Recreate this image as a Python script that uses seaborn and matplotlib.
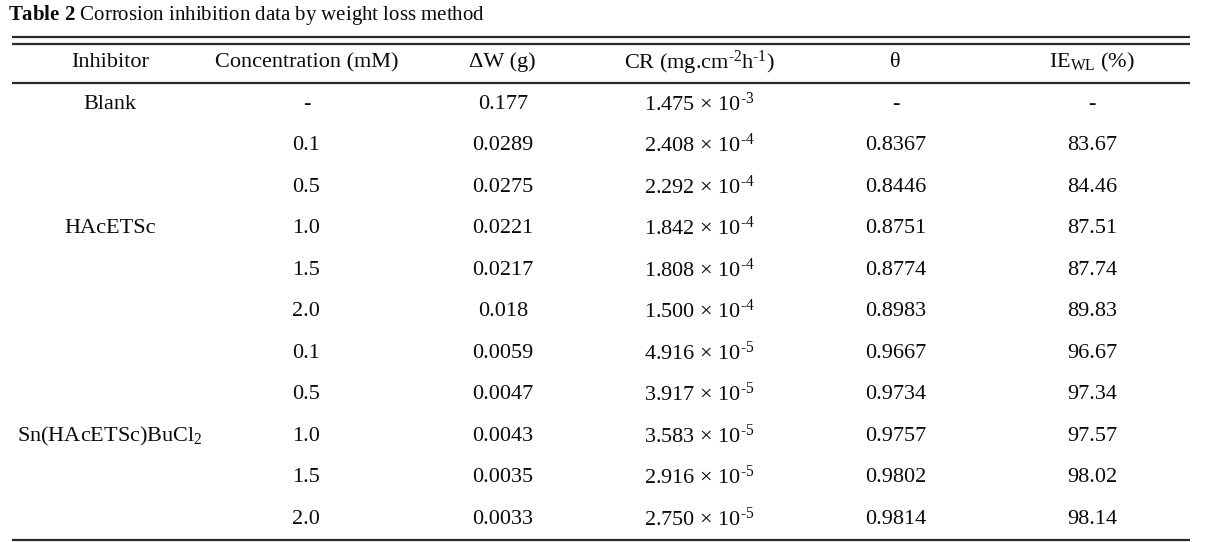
import numpy as np
import pandas as pd
import matplotlib
matplotlib.use("Agg")
import matplotlib.pyplot as plt
from matplotlib.colors import ListedColormap
import seaborn as sns

# table data
headers = ["Inhibitor", "Concentration (mM)", "ΔW (g)",
           r"CR (mg.cm$^{\text{-2}}$h$^{\text{-1}}$)", "θ", r"IE$_{\rm WL}$ (%)"]
inhibitors = ["Blank", "HAcETSc", r"Sn(HAcETSc)BuCl$_2$"]
group_sizes = [1, 5, 5]
concentration = ["-", "0.1", "0.5", "1.0", "1.5", "2.0", "0.1", "0.5", "1.0", "1.5", "2.0"]
delta_w = ["0.177", "0.0289", "0.0275", "0.0221", "0.0217", "0.018",
           "0.0059", "0.0047", "0.0043", "0.0035", "0.0033"]
cr_mant = ["1.475", "2.408", "2.292", "1.842", "1.808", "1.500",
           "4.916", "3.917", "3.583", "2.916", "2.750"]
cr_exp = [-3, -4, -4, -4, -4, -4, -5, -5, -5, -5, -5]
theta = ["-", "0.8367", "0.8446", "0.8751", "0.8774", "0.8983",
         "0.9667", "0.9734", "0.9757", "0.9802", "0.9814"]
ie_wl = ["-", "83.67", "84.46", "87.51", "87.74", "89.83",
         "96.67", "97.34", "97.57", "98.02", "98.14"]

# inhibitor name sits in the middle row of its group
inh_col = []
for name, n in zip(inhibitors, group_sizes):
    col = [""] * n
    col[n // 2] = name
    inh_col += col

cr_col = [r"%s $\times$ 10$^{\text{%d}}$" % (m, e) for m, e in zip(cr_mant, cr_exp)]

df = pd.DataFrame({
    headers[0]: inh_col,
    headers[1]: concentration,
    headers[2]: delta_w,
    headers[3]: cr_col,
    headers[4]: theta,
    headers[5]: ie_wl,
})

labels = np.vstack([np.array(headers, dtype=object), df.values])
nrow, ncol = labels.shape

sns.set_theme(style="white")
plt.rcParams['font.family'] = ['Liberation Serif', 'DejaVu Serif']
plt.rcParams['mathtext.fontset'] = 'custom'
plt.rcParams['mathtext.rm'] = 'Liberation Serif'
plt.rcParams['mathtext.it'] = 'Liberation Serif:italic'
plt.rcParams['mathtext.bf'] = 'Liberation Serif:bold'

fig = plt.figure(figsize=(12.11, 5.42), dpi=100)
ax = fig.add_axes([0, 0, 1, 1])

sns.heatmap(np.zeros((nrow, ncol)), annot=labels, fmt="", cmap=ListedColormap(["white"]),
            cbar=False, ax=ax, annot_kws={'fontsize': 16, 'color': '#0a0a0a'})

ax.set_xlim(-0.06, 6.106)
ax.set_ylim(12.054, -1.006)
ax.set_axis_off()

# rules
line_kw = dict(color='#2a2a2a', lw=1.6)
ax.hlines([-0.11, 0.06], 0, ncol, **line_kw)
ax.hlines([1.0, nrow], 0, ncol, **line_kw)

ax.text(-0.019, -0.64, r"$\mathbf{Table\ 2}$ Corrosion inhibition data by weight loss method",
        fontsize=15, ha='left', va='center', color='#0a0a0a')

plt.savefig('out.png', dpi=100)
plt.close()
